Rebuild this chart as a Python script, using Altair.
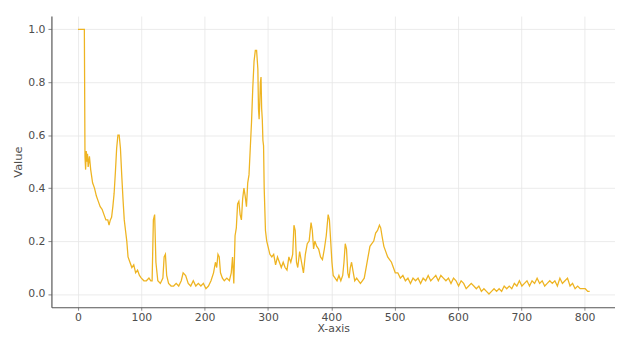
import altair as alt
import pandas as pd

x_vals = [0, 9, 10, 11, 12, 13, 14, 15, 16, 18, 20, 23, 26, 29, 32, 35, 38, 41, 44, 47, 49, 51, 53, 55, 57, 59, 61, 63, 65, 67, 69, 71, 73, 75, 77, 79, 82, 85, 88, 91, 94, 97, 100, 104, 108, 112, 115, 117, 119, 121, 123, 126, 130, 134, 136, 138, 140, 143, 147, 151, 155, 159, 163, 166, 170, 174, 178, 182, 186, 190, 194, 198, 202, 206, 210, 214, 217, 219, 221, 223, 225, 228, 231, 235, 239, 242, 244, 246, 248, 250, 252, 254, 256, 258, 260, 262, 264, 266, 268, 270, 272, 274, 276, 278, 280, 282, 284, 285, 286, 287, 288, 289, 290, 291, 292, 293, 294, 296, 298, 300, 303, 306, 309, 312, 315, 318, 321, 324, 327, 330, 333, 336, 339, 341, 343, 345, 347, 350, 353, 356, 359, 362, 365, 368, 370, 372, 374, 377, 380, 383, 386, 389, 392, 395, 397, 399, 401, 403, 406, 409, 412, 415, 418, 420, 422, 424, 426, 428, 430, 432, 434, 437, 440, 443, 446, 449, 452, 455, 458, 461, 464, 467, 470, 473, 476, 478, 480, 483, 486, 489, 492, 495, 498, 501, 505, 509, 513, 517, 521, 525, 529, 533, 537, 541, 545, 549, 553, 557, 561, 565, 569, 573, 577, 581, 585, 589, 593, 597, 601, 605, 609, 613, 617, 621, 625, 629, 633, 637, 641, 645, 649, 653, 657, 661, 665, 669, 673, 677, 681, 685, 689, 693, 697, 701, 705, 709, 713, 717, 721, 725, 729, 733, 737, 741, 745, 749, 753, 757, 761, 765, 769, 773, 777, 781, 785, 789, 793, 797, 801, 805, 808]

y_vals = [1.0, 1.0, 1.0, 0.52, 0.47, 0.54, 0.50, 0.53, 0.48, 0.52, 0.47, 0.42, 0.40, 0.37, 0.35, 0.33, 0.32, 0.30, 0.28, 0.28, 0.26, 0.28, 0.29, 0.33, 0.38, 0.46, 0.55, 0.60, 0.60, 0.55, 0.45, 0.36, 0.28, 0.24, 0.20, 0.14, 0.12, 0.10, 0.11, 0.08, 0.09, 0.07, 0.06, 0.05, 0.05, 0.06, 0.05, 0.05, 0.28, 0.30, 0.12, 0.05, 0.04, 0.06, 0.14, 0.15, 0.07, 0.04, 0.03, 0.03, 0.04, 0.03, 0.05, 0.08, 0.07, 0.04, 0.03, 0.05, 0.03, 0.04, 0.03, 0.04, 0.02, 0.03, 0.05, 0.08, 0.12, 0.10, 0.15, 0.14, 0.08, 0.06, 0.05, 0.06, 0.05, 0.08, 0.14, 0.04, 0.22, 0.25, 0.34, 0.35, 0.30, 0.28, 0.36, 0.40, 0.37, 0.33, 0.42, 0.45, 0.55, 0.65, 0.78, 0.88, 0.92, 0.92, 0.85, 0.70, 0.66, 0.72, 0.80, 0.82, 0.70, 0.66, 0.58, 0.56, 0.40, 0.24, 0.20, 0.18, 0.15, 0.14, 0.15, 0.11, 0.14, 0.12, 0.10, 0.12, 0.10, 0.09, 0.14, 0.12, 0.15, 0.26, 0.24, 0.12, 0.10, 0.16, 0.12, 0.08, 0.15, 0.19, 0.20, 0.27, 0.24, 0.17, 0.20, 0.18, 0.17, 0.14, 0.13, 0.17, 0.22, 0.30, 0.28, 0.20, 0.12, 0.07, 0.06, 0.05, 0.07, 0.05, 0.07, 0.12, 0.19, 0.17, 0.08, 0.06, 0.10, 0.12, 0.09, 0.05, 0.06, 0.05, 0.04, 0.05, 0.06, 0.10, 0.14, 0.18, 0.19, 0.20, 0.23, 0.24, 0.26, 0.25, 0.22, 0.18, 0.16, 0.14, 0.13, 0.12, 0.10, 0.08, 0.08, 0.06, 0.07, 0.05, 0.06, 0.04, 0.06, 0.05, 0.06, 0.04, 0.06, 0.05, 0.07, 0.05, 0.06, 0.07, 0.05, 0.07, 0.06, 0.05, 0.06, 0.04, 0.06, 0.05, 0.03, 0.05, 0.04, 0.02, 0.03, 0.04, 0.03, 0.02, 0.03, 0.01, 0.02, 0.01, 0.00, 0.01, 0.02, 0.01, 0.02, 0.01, 0.03, 0.02, 0.03, 0.02, 0.04, 0.03, 0.05, 0.03, 0.04, 0.05, 0.03, 0.05, 0.04, 0.06, 0.04, 0.05, 0.03, 0.04, 0.05, 0.04, 0.05, 0.03, 0.06, 0.04, 0.05, 0.06, 0.03, 0.04, 0.02, 0.03, 0.02, 0.02, 0.02, 0.01, 0.01]

x_ticks = [0, 100, 200, 300, 400, 500, 600, 700, 800]
y_ticks = [0.0, 0.2, 0.4, 0.6, 0.8, 1.0]

df = pd.DataFrame({"x": x_vals, "y": y_vals})

chart = (
    alt.Chart(df)
    .mark_line(color="#EEB422", strokeWidth=1.3, clip=True)
    .encode(
        x=alt.X("x:Q", title="X-axis",
                scale=alt.Scale(domain=[-42, 848], nice=False, zero=False),
                axis=alt.Axis(values=x_ticks, format="d", titlePadding=1, labelPadding=1,
                              tickSize=3, titleFontSize=11)),
        y=alt.Y("y:Q", title="Value",
                scale=alt.Scale(domain=[-0.05, 1.05], nice=False, zero=False),
                axis=alt.Axis(values=y_ticks, format=".1f", titlePadding=4, labelPadding=3)),
    )
    .properties(width=571, height=295, autosize=alt.AutoSizeParams(type="none"),
                padding={"left": 44, "top": 6, "right": 0, "bottom": 30})
    .configure_view(stroke=None)
    .configure_axis(
        labelFont="DejaVu Sans", labelFontSize=11, labelColor="#4d4d4d",
        titleFont="DejaVu Sans", titleFontSize=11.5, titleFontWeight="normal", titleColor="#4d4d4d",
        domainColor="#555555", domainWidth=1.2,
        tickColor="#888888", tickSize=3.5,
        gridColor="#e6e6e6", gridWidth=0.8,
    )
)

chart.save("out.html", embed_options={"renderer": "svg", "actions": False})
